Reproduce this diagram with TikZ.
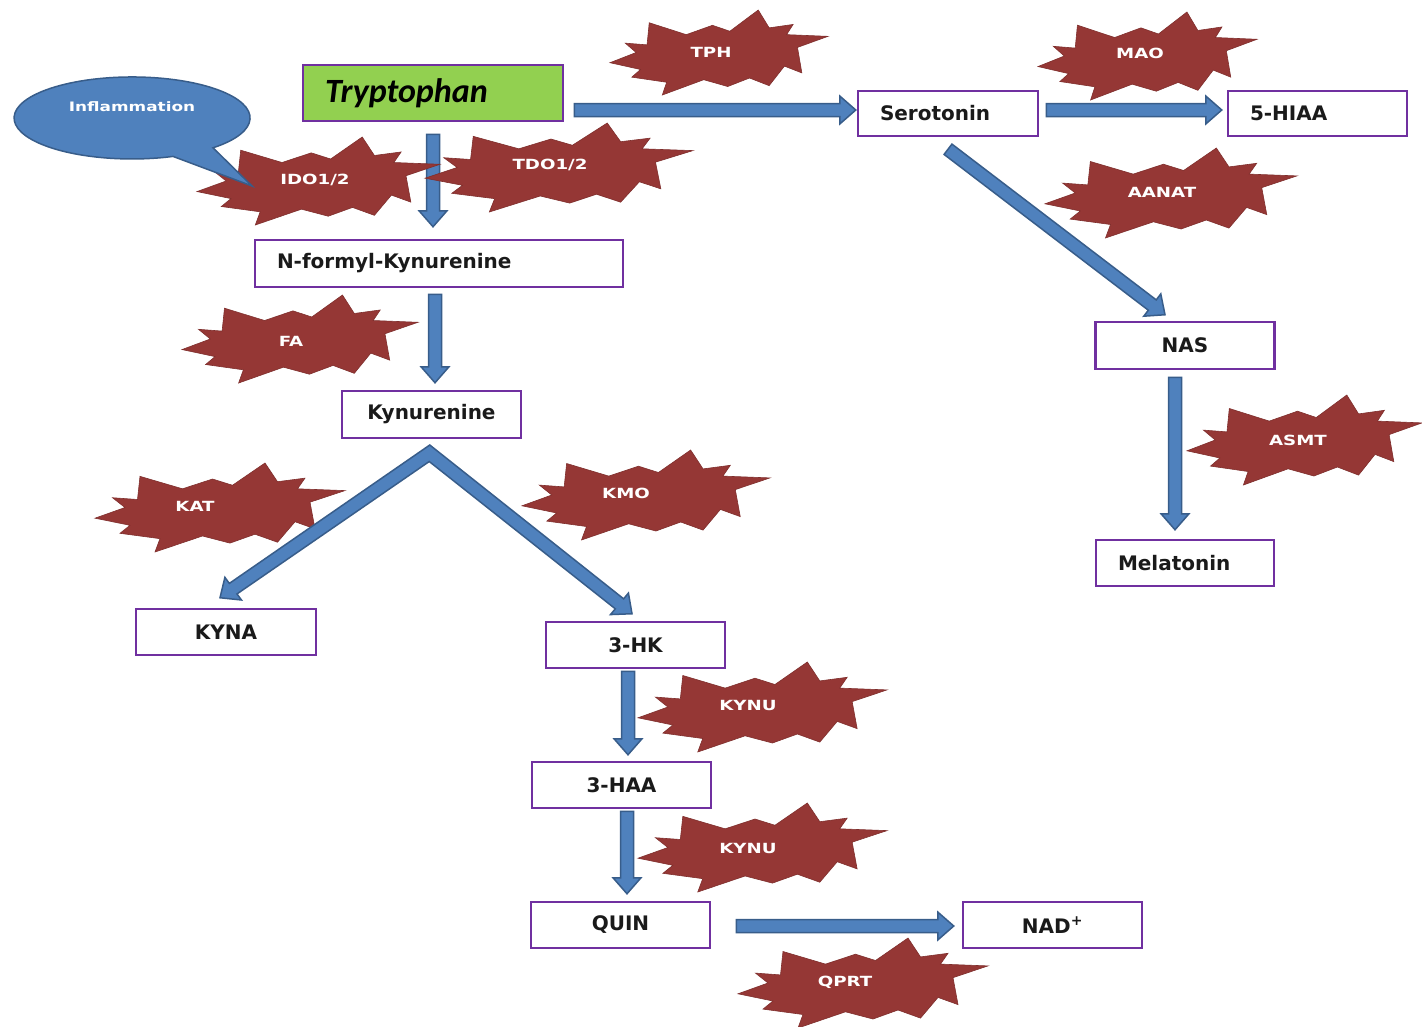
\documentclass[tikz,border=0pt]{standalone}
\usepackage{fontspec}
\setmainfont{DejaVu Sans}
\newfontfamily\starfont[FakeStretch=1.3]{DejaVu Sans}
\newfontfamily\trpfont{Carlito}
\usetikzlibrary{calc}
\definecolor{boxline}{HTML}{7030A0}
\definecolor{trpgreen}{HTML}{92D050}
\definecolor{arrowfill}{HTML}{4F81BD}
\definecolor{arrowline}{HTML}{385D8A}
\definecolor{starred}{HTML}{953735}
\definecolor{txt}{HTML}{1A1A1A}
\tikzset{
  mbox/.style={draw=boxline, line width=2.5pt, fill=white, minimum width=179pt,
    minimum height=46pt, inner sep=0pt, font=\bfseries\fontsize{20}{24}\selectfont, text=txt},
  lbox/.style={mbox, text width=#1, align=left},
  blockarrow/.style={fill=arrowfill, draw=arrowline, line width=1.5pt, line join=miter},
  starfill/.style={fill=starred, draw=starred!85!black, line width=0.6pt},
  startext/.style={text=white, font=\starfont\bfseries\fontsize{14}{16}\selectfont, inner sep=0pt},
}
\newcommand\blockarrow[2]{%
  \coordinate (bah) at ($(#2)!16pt!(#1)$);
  \filldraw[blockarrow] ($(#1)!6.5pt!90:(#2)$) -- ($(bah)!6.5pt!90:(#2)$) -- ($(bah)!14pt!90:(#2)$)
    -- (#2) -- ($(bah)!14pt!-90:(#2)$) -- ($(bah)!6.5pt!-90:(#2)$) -- ($(#1)!6.5pt!-90:(#2)$) -- cycle;}
\newcommand\explosion[4]{%
  \begin{scope}[shift={(#1,#2)}, xscale=#3, yscale=#4]
  \filldraw[starfill] (0.68,0.00) -- (0.73,0.21) -- (0.84,0.17) -- (0.81,0.29) -- (1.00,0.31)
    -- (0.86,0.44) -- (0.88,0.74) -- (0.80,0.66) -- (0.73,0.89) -- (0.64,0.80) -- (0.54,0.90)
    -- (0.43,0.82) -- (0.24,1.00) -- (0.26,0.85) -- (0.10,0.79) -- (0.14,0.70) -- (0.00,0.62)
    -- (0.12,0.50) -- (0.07,0.39) -- (0.17,0.41) -- (0.18,0.15) -- (0.35,0.29) -- (0.47,0.18)
    -- (0.55,0.25) -- cycle;
  \end{scope}}
\begin{document}
\begin{tikzpicture}[x=1pt, y=-1pt]
\path[use as bounding box] (0,0) rectangle (1422,1026);
\fill[white] (0,0) rectangle (1422,1026);

% boxes
\node[lbox=216pt, minimum width=260pt, minimum height=56pt, fill=trpgreen, text=black,
  font=\trpfont\bfseries\itshape\fontsize{34}{38}\selectfont] (trp) at (433,93) {Tryptophan};
\node[lbox=136pt, minimum width=180pt, minimum height=45pt] (ser) at (948,113.5) {Serotonin};
\node[lbox=135pt, minimum width=179pt, minimum height=45pt] (hiaa) at (1317.5,113.5) {5-HIAA};
\node[lbox=324pt, minimum width=368pt, minimum height=47pt] (nfk) at (439,263.5) {N-formyl-Kynurenine};
\node[mbox, minimum height=47pt] (kyn) at (431.5,414.5) {Kynurenine};
\node[mbox, minimum width=180pt] (kyna) at (226,632) {KYNA};
\node[mbox] (hk) at (635.5,645) {3-HK};
\node[mbox] (haa) at (621.5,785) {3-HAA};
\node[mbox] (quin) at (620.5,925) {QUIN};
\node[mbox] (nad) at (1052.5,925) {NAD\textsuperscript{+}};
\node[mbox, minimum height=47pt] (nas) at (1185,345.5) {NAS};
\node[lbox=134pt, minimum width=178pt] (mel) at (1185,563) {Melatonin};

% stars behind arrows
\explosion{610}{10}{218}{85}
\explosion{1038}{12}{219}{88}
\explosion{1045}{148}{252}{90}
\explosion{182}{295}{236}{88}
\explosion{95}{463}{250}{89}
\explosion{522}{450}{248}{90}
\explosion{638}{662}{249}{90}
\explosion{638}{803}{249}{89}
\explosion{738}{938}{250}{90}
\explosion{1187}{395}{235}{90}

% arrow end points
\coordinate (a1s) at ($(trp.east)+(10,17)$);
\coordinate (a1e) at ($(ser.west)+(-1,-3.5)$);
\coordinate (a2s) at ($(trp.south)+(0,12)$);
\coordinate (a2e) at ($(nfk.north)+(-6,-12)$);
\coordinate (a3s) at ($(nfk.south)+(-4,6)$);
\coordinate (a3e) at ($(kyn.north)+(3.5,-7)$);
\coordinate (a4s) at ($(kyn.south)+(-2,14)$);
\coordinate (a4e) at ($(kyna.north)+(-6,-10)$);
\coordinate (a5e) at ($(hk.north)+(-3.5,-7)$);
\coordinate (a6s) at ($(ser.east)+(7,-3.5)$);
\coordinate (a6e) at ($(hiaa.west)+(-5,-3.5)$);
\coordinate (a7s) at ($(ser.south)+(0,12)$);
\coordinate (a7e) at ($(nas.north)+(-20,-6)$);
\coordinate (a8s) at ($(nas.south)+(-10,7)$);
\coordinate (a8e) at ($(mel.north)+(-10,-9)$);
\coordinate (a9s) at ($(hk.south)+(-7.5,2)$);
\coordinate (a9e) at ($(haa.north)+(6.5,-6)$);
\coordinate (a10s) at ($(haa.south)+(5.5,2)$);
\coordinate (a10e) at ($(quin.north)+(6.5,-7)$);
\coordinate (a11s) at ($(quin.east)+(25,1)$);
\coordinate (a11e) at ($(nad.west)+(-8,1)$);

\blockarrow{a1s}{a1e}
\blockarrow{a2s}{a2e}
\blockarrow{a3s}{a3e}
\blockarrow{a6s}{a6e}
\blockarrow{a7s}{a7e}
\blockarrow{a8s}{a8e}
\blockarrow{a9s}{a9e}
\blockarrow{a10s}{a10e}
\blockarrow{a11s}{a11e}

% forked arrow from Kynurenine to KYNA and 3-HK (one outline)
\coordinate (apo) at ($(a4s)+(0.27,-8.25)$);
\coordinate (api) at ($(a4s)+(-0.27,8.25)$);
\coordinate (h1) at ($(a4e)!16pt!(a4s)$);
\coordinate (h2) at ($(a5e)!16pt!(a4s)$);
\filldraw[blockarrow] (apo) -- ($(h1)+(-3.83,-5.25)$) -- ($(h1)+(-8.26,-11.31)$) -- (a4e)
  -- ($(h1)+(8.26,11.31)$) -- ($(h1)+(3.83,5.25)$) -- (api)
  -- ($(h2)+(-4.16,4.99)$) -- ($(h2)+(-8.97,10.75)$) -- (a5e)
  -- ($(h2)+(8.97,-10.75)$) -- ($(h2)+(4.16,-4.99)$) -- cycle;

% stars over arrows
\explosion{197}{137}{243}{88}
\explosion{425}{123}{268}{89}

% inflammation callout
\filldraw[fill=arrowfill, draw=arrowline, line width=1.5pt] (252,186) -- (213,147.8)
  arc[start angle=-46.7, end angle=290.3, x radius=118pt, y radius=41pt] -- cycle;
\node[startext, font=\starfont\bfseries\fontsize{13}{15}\selectfont] (infl) at (132,107) {Inflammation};

% enzyme labels
\node[startext] (tph) at (711,52) {TPH};
\node[startext] (mao) at (1140,53) {MAO};
\node[startext] (aanat) at (1162,192) {AANAT};
\node[startext] (ido) at (315,180) {IDO1/2};
\node[startext] (tdo) at (550,165) {TDO1/2};
\node[startext] (fa) at (291,341) {FA};
\node[startext] (kat) at (195,506) {KAT};
\node[startext] (kmo) at (626,493) {KMO};
\node[startext] (kynu1) at (748,705) {KYNU};
\node[startext] (kynu2) at (748,848) {KYNU};
\node[startext] (qprt) at (845,982) {QPRT};
\node[startext] (asmt) at (1298,440) {ASMT};
\end{tikzpicture}
\end{document}
